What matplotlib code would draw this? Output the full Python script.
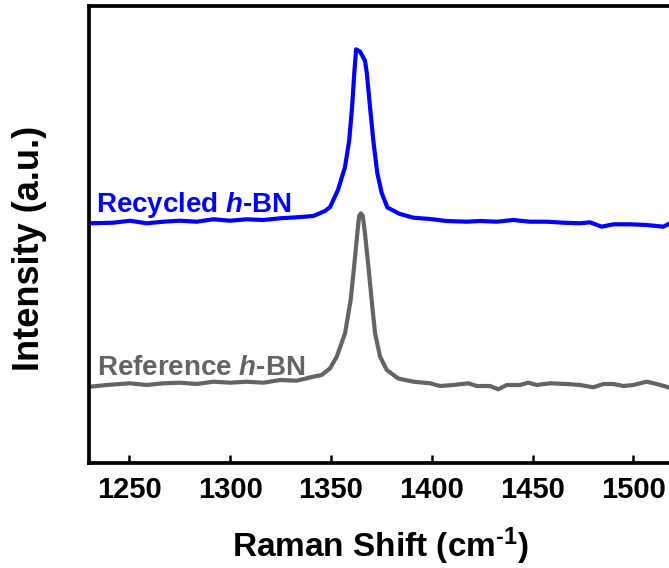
import matplotlib.pyplot as plt

plt.rcParams['font.family'] = ['Liberation Sans', 'DejaVu Sans']
plt.rcParams['font.weight'] = 'bold'
plt.rcParams['mathtext.fontset'] = 'custom'
plt.rcParams['mathtext.rm'] = 'Liberation Sans:bold'
plt.rcParams['mathtext.bf'] = 'Liberation Sans:bold'
plt.rcParams['mathtext.it'] = 'Liberation Sans:italic:bold'
plt.rcParams['mathtext.bfit'] = 'Liberation Sans:italic:bold'

# Raman spektren (verschoben, willkuerliche Einheiten)
shift_recycled = [1230.5, 1242.1, 1250.3, 1258.6, 1266.9, 1275.1, 1283.4, 1291.7,
                  1300.0, 1308.2, 1316.5, 1324.8, 1333.0, 1341.3, 1347.1, 1349.6,
                  1353.5, 1357.0, 1359.1, 1360.5, 1361.6, 1362.5, 1364.5, 1366.9,
                  1367.8, 1369.4, 1371.0, 1373.0, 1375.2, 1378.0, 1384.0, 1390.9,
                  1399.2, 1407.4, 1417.4, 1424.0, 1432.2, 1440.5, 1448.7, 1457.0,
                  1465.3, 1473.6, 1478.5, 1484.3, 1490.1, 1498.4, 1506.6, 1514.9,
                  1517.2]
int_recycled = [239.7, 240.3, 242.3, 239.7, 241.3, 242.3, 241.3, 243.7,
                242.3, 243.7, 243.0, 244.7, 245.7, 247.0, 252.0, 256.0,
                273.0, 296.0, 323.0, 356.0, 390.0, 413.7, 411.3, 402.3,
                390.0, 356.0, 323.0, 290.0, 270.0, 255.5, 249.2, 245.3,
                244.0, 242.0, 241.3, 242.0, 241.3, 243.0, 241.3, 241.3,
                240.3, 239.7, 240.7, 236.3, 238.7, 238.7, 238.0, 236.3,
                238.7]

shift_reference = [1230.5, 1238.8, 1250.3, 1258.6, 1266.9, 1275.1, 1283.4, 1291.7,
                   1300.0, 1308.2, 1316.5, 1324.8, 1333.0, 1341.3, 1345.4, 1349.6,
                   1352.9, 1357.0, 1359.8, 1361.5, 1363.1, 1364.0, 1364.9, 1365.8,
                   1366.9, 1368.6, 1370.2, 1371.9, 1374.4, 1377.7, 1383.4, 1390.9,
                   1399.2, 1404.1, 1410.7, 1418.2, 1422.3, 1428.9, 1433.0, 1437.2,
                   1443.8, 1447.9, 1452.1, 1458.7, 1467.0, 1473.6, 1480.2, 1485.2,
                   1490.1, 1495.1, 1500.0, 1506.6, 1511.6, 1517.4]
int_reference = [76.3, 78.0, 79.7, 78.0, 79.7, 80.3, 79.0, 81.3,
                 80.3, 81.3, 80.3, 83.0, 82.3, 86.3, 88.0, 94.7,
                 106.3, 129.7, 163.0, 196.3, 229.7, 247.0, 249.7, 247.0,
                 229.7, 196.3, 163.0, 129.7, 106.3, 93.0, 84.5, 81.3,
                 79.7, 77.0, 78.0, 79.7, 77.0, 77.0, 73.7, 78.0,
                 78.0, 80.3, 78.0, 79.7, 79.0, 78.0, 75.7, 79.0,
                 79.0, 77.0, 78.0, 81.3, 79.0, 75.7]

xticks = [1250, 1300, 1350, 1400, 1450, 1500]

fig = plt.figure(figsize=(6.69, 5.68), dpi=100)
ax = fig.add_axes([89 / 669, 105 / 568, 582 / 669, 457 / 568])

ax.plot(shift_recycled, int_recycled, color='#0000ff', lw=3.0)
ax.plot(shift_reference, int_reference, color='#646464', lw=3.0)

ax.text(1233.5, 251.3, r'Recycled $\mathbfit{h}$-BN', color='#0000ff',
        fontsize=20, fontweight='bold', ha='left', va='baseline')
ax.text(1233.8, 88.0, r'Reference $\mathbfit{h}$-BN', color='#646464',
        fontsize=20, fontweight='bold', ha='left', va='baseline')

ax.set_xlim(1230, 1518.7)
ax.set_ylim(0, 457)
ax.set_xticks(xticks)
ax.set_yticks([])
ax.tick_params(axis='x', direction='in', length=6, width=1.8, pad=9, labelsize=21)
for side in ['left', 'top', 'bottom']:
    ax.spines[side].set_linewidth(2.7)
ax.spines['right'].set_visible(False)

ax.set_xlabel(r'Raman Shift (cm$^{\text{-1}}$)', fontsize=24, fontweight='bold', labelpad=16)
ax.set_ylabel('Intensity (a.u.)', fontsize=26, fontweight='bold')
ax.yaxis.set_label_coords(-0.072, 0.47)

fig.savefig('out.png', dpi=100)
